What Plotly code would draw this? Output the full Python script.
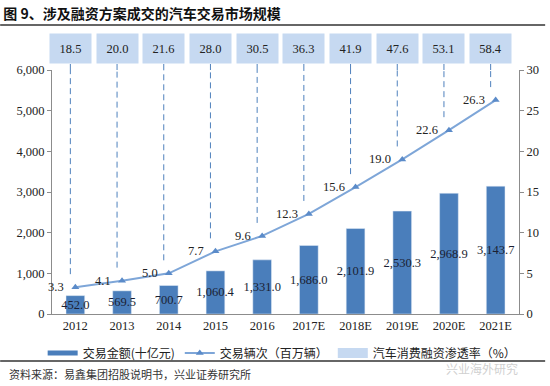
import plotly.graph_objects as go

# ---- data ----
years = ["2012", "2013", "2014", "2015", "2016", "2017E", "2018E", "2019E", "2020E", "2021E"]
amount = [452.0, 569.5, 700.7, 1060.4, 1331.0, 1686.0, 2101.9, 2530.3, 2968.9, 3143.7]   # 交易金额(十亿元)
volume = [3.3, 4.1, 5.0, 7.7, 9.6, 12.3, 15.6, 19.0, 22.6, 26.3]                         # 交易辆次（百万辆）
penetration = [18.5, 20.0, 21.6, 28.0, 30.5, 36.3, 41.9, 47.6, 53.1, 58.4]               # 渗透率（%）
left_ticks = [0, 1000, 2000, 3000, 4000, 5000, 6000]
right_ticks = [0, 5, 10, 15, 20, 25, 30]

title_text = "图 9、涉及融资方案成交的汽车交易市场规模"
source_text = "资料来源：易鑫集团招股说明书，兴业证券研究所"
name_amount = "交易金额(十亿元)"
name_volume = "交易辆次（百万辆）"
name_pen = "汽车消费融资渗透率（%）"

SERIF = "Liberation Serif, Times New Roman, serif"
CJK = "Noto Sans CJK SC, sans-serif"
BAR_C = "#4A7EBB"
LINE_C = "#7EA6D8"
BOX_C = "#C6D9F1"
DASH_C = "#4F81BD"

fig = go.Figure()

fig.add_trace(go.Bar(
    x=years, y=amount, width=0.4, marker_color=BAR_C, showlegend=False,
    text=[f"{v:,.1f}" for v in amount], textposition="inside",
    insidetextanchor="middle", textangle=0, constraintext="none",
    textfont=dict(family=SERIF, size=12.5, color="#1b1f33"),
    cliponaxis=False, name=name_amount,
))
# legend proxies
fig.add_trace(go.Scatter(x=[years[0]], y=[None], mode="lines",
                         line=dict(color=BAR_C, width=5), name=name_amount))
fig.add_trace(go.Scatter(
    x=years, y=volume, yaxis="y2", mode="lines+markers", name=name_volume,
    line=dict(color=LINE_C, width=2),
    marker=dict(symbol="triangle-up", size=7, color="#5B8BC9"),
))
fig.add_trace(go.Scatter(x=[years[0]], y=[None], mode="lines",
                         line=dict(color=BOX_C, width=14), name=name_pen))

annotations = []
shapes = []
for i, (v, p) in enumerate(zip(volume, penetration)):
    # line labels (i = category index on the category axis)
    annotations.append(dict(x=i, y=v, xref="x", yref="y2", text=f"{v:.1f}",
                            showarrow=False, xanchor="right", xshift=-9,
                            font=dict(family=SERIF, size=12.5, color="#222")))
    # penetration boxes
    annotations.append(dict(x=i, y=1, xref="x", yref="paper", text=f"{p:.1f}",
                            showarrow=False, yanchor="bottom", yshift=6, xshift=-5,
                            bgcolor=BOX_C, width=41, height=29, borderpad=0,
                            font=dict(family=SERIF, size=12.5, color="#222")))
    # dashed drop lines
    shapes.append(dict(type="line", xref="x", xsizemode="pixel", xanchor=i, x0=-5, x1=-5,
                       yref="y2", y0=v + 1.6, y1=30,
                       line=dict(color=DASH_C, width=1, dash="6px,4px")))
    shapes.append(dict(type="line", xref="x", xsizemode="pixel", xanchor=i, x0=-5, x1=-5,
                       yref="paper", y0=1, y1=1.025,
                       line=dict(color=DASH_C, width=1, dash="6px,4px")))

# rules
shapes.append(dict(type="line", xref="paper", yref="paper", x0=-0.111, x1=1.056,
                   y0=1.184, y1=1.184, line=dict(color="#333", width=1.5)))
shapes.append(dict(type="line", xref="paper", yref="paper", x0=-0.111, x1=1.056,
                   y0=-0.193, y1=-0.193, line=dict(color="#333", width=1.5)))

annotations.append(dict(x=-0.097, y=-0.246, xref="paper", yref="paper", text=source_text,
                        showarrow=False, xanchor="left", yanchor="middle",
                        font=dict(family=CJK, size=11, color="#333")))
annotations.append(dict(x=1.002, y=-0.222, xref="paper", yref="paper", text="兴业海外研究",
                        showarrow=False, xanchor="right", yanchor="middle",
                        font=dict(family=CJK, size=12, color="#d0d0d0")))

fig.update_layout(
    width=550, height=386,
    margin=dict(l=52, r=31, t=70, b=72),
    paper_bgcolor="white", plot_bgcolor="white",
    barmode="overlay",
    title=dict(text="<b>" + title_text + "</b>", x=0.006, xanchor="left", xref="container",
               y=0.964, yanchor="middle", yref="container",
               font=dict(family=CJK, size=14, color="#111")),
    xaxis=dict(type="category", range=[-0.5, len(years) - 0.5], autorange=False,
               showline=True, linecolor="#8c8c8c", linewidth=1,
               ticks="", showgrid=False,
               tickfont=dict(family=SERIF, size=12.5, color="#222")),
    yaxis=dict(range=[0, 6000], tickvals=left_ticks, tickformat=",", showgrid=False,
               showline=True, linecolor="#8c8c8c", linewidth=1, ticks="outside",
               ticklen=4, tickcolor="#8c8c8c", zeroline=False,
               tickfont=dict(family=SERIF, size=12.5, color="#222")),
    yaxis2=dict(range=[0, 30], tickvals=right_ticks, overlaying="y", side="right",
                showgrid=False, showline=True, linecolor="#8c8c8c", linewidth=1,
                ticks="outside", ticklen=4, tickcolor="#8c8c8c", zeroline=False,
                tickfont=dict(family=SERIF, size=12.5, color="#222")),
    legend=dict(orientation="h", x=-0.02, xanchor="left", y=-0.16, yanchor="middle",
                itemwidth=30,
                font=dict(family=CJK, size=12, color="#222"), bgcolor="rgba(0,0,0,0)"),
    annotations=annotations, shapes=shapes,
)

fig.write_html("out.html", config={"displayModeBar": False},
               post_script="document.body.style.margin='0';")
